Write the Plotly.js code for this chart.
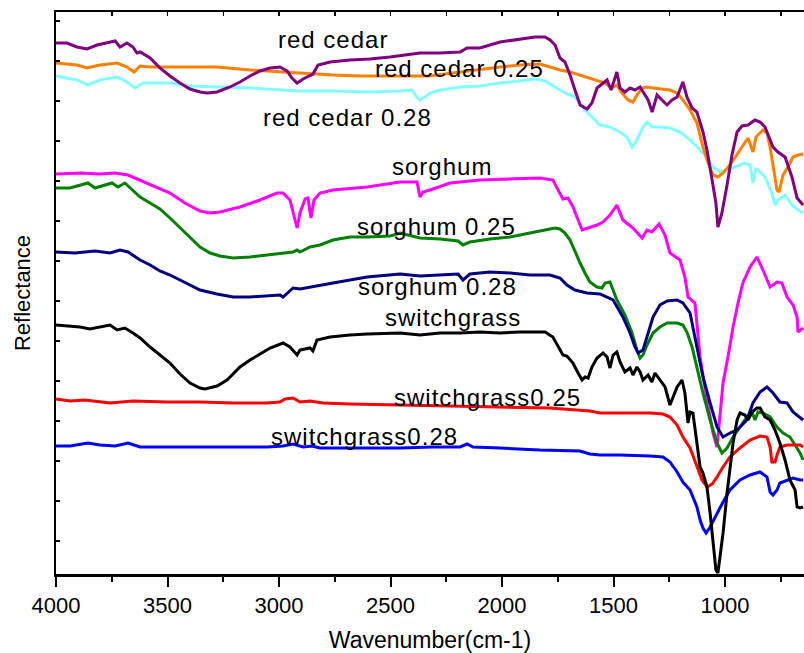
<!DOCTYPE html>
<html>
<head>
<meta charset="utf-8">
<script src="https://cdn.plot.ly/plotly-3.0.1.min.js"></script>
<style>
  html, body { margin: 0; padding: 0; background: #fff; }
  #chart { width: 804px; height: 653px; }
  .annotation-text { letter-spacing: 1px; }
</style>
</head>
<body>
<div id="chart"></div>
<script>
// FTIR reflectance spectra, stacked with vertical offsets (arbitrary units)

// red cedar
const cedarWn = [4000,3951,3906,3861,3816,3771,3735,3713,3682,3655,3637,3623,3578,3534,3489,3444,3399,3354,3323,3278,3220,3175,3130,3085,3040,2996,2964,2942,2919,2892,2861,2848,2825,2771,2682,2592,2502,2368,2278,2188,2157,2099,2009,1919,1852,1807,1785,1762,1740,1718,1695,1673,1650,1619,1597,1574,1547,1529,1511,1493,1485,1471,1449,1426,1404,1381,1368,1345,1327,1305,1283,1260,1238,1215,1189,1171,1148,1126,1099,1081,1058,1041,1032,1014,991,969,946,924,897,866,843,821,785,763,731,700,677,650];
const cedarR  = [53.1,53.1,52.7,52.5,52.9,53.1,53.3,52.7,53.1,52.7,52.1,52.2,51.6,50.6,49.8,49.1,48.5,48.2,48.1,48.2,48.7,49.2,49.8,50.3,50.6,50.7,50.3,49.6,49.1,49.5,49.9,50.0,50.9,51.2,51.4,51.5,51.7,52.1,52.1,52.2,52.6,52.6,53.2,53.5,53.7,53.7,53.4,52.9,51.6,51.2,49.9,48.4,46.9,46.5,47.1,48.6,49.1,49.4,48.4,49.7,50.2,48.6,48.2,48.6,48.4,48.7,48.2,47.4,46.2,47.9,47.4,46.9,47.4,47.7,49.2,47.7,46.6,46.2,44.2,42.4,39.4,37.1,34.7,36.1,38.9,41.9,44.2,44.8,44.9,45.4,45.2,44.7,42.7,42.2,41.7,39.7,37.6,36.9];

// red cedar 0.25
const cedar25Wn = [4000,3906,3861,3803,3726,3682,3650,3623,3578,3354,3278,3130,2996,2861,2758,2637,2502,2413,2323,2256,2188,2099,2009,1919,1830,1785,1740,1695,1650,1606,1574,1538,1507,1485,1462,1435,1413,1395,1372,1350,1323,1292,1247,1215,1189,1157,1126,1099,1076,1054,1032,1009,978,933,897,875,861,830,812,798,780,767,758,740,718,695,673,650];
const cedar25R  = [51.1,50.9,50.6,50.9,51.1,50.7,50.2,50.8,50.7,50.7,50.7,50.4,50.2,50.0,49.9,49.8,49.8,49.8,49.8,50.0,50.2,50.4,50.7,50.9,51.0,50.7,50.4,50.2,49.9,49.6,49.4,49.1,48.6,48.9,48.1,47.4,47.2,47.9,48.6,48.7,48.6,48.5,48.4,48.1,47.4,46.4,45.1,42.7,41.1,39.9,39.7,40.1,40.9,42.4,43.6,42.2,43.7,44.4,44.1,42.7,40.1,38.4,38.2,39.9,40.7,41.7,41.9,42.0];

// red cedar 0.28
const cedar28Wn = [4000,3906,3857,3803,3726,3682,3646,3610,3578,3489,3399,3278,3130,2982,2906,2758,2605,2457,2404,2386,2368,2345,2323,2278,2188,2099,2009,1919,1852,1807,1762,1718,1673,1628,1592,1561,1516,1471,1440,1417,1395,1368,1350,1328,1292,1247,1202,1157,1112,1081,1054,1023,991,955,911,888,875,861,821,790,776,763,731,700,673,650];
const cedar28R  = [49.8,49.4,48.9,49.4,49.7,49.2,48.6,49.1,49.1,49.1,48.8,48.7,48.6,48.4,48.3,48.3,48.2,48.3,48.4,47.8,47.4,47.7,48.1,48.4,48.7,48.8,49.1,49.3,49.5,49.3,48.7,48.1,47.7,46.4,45.6,44.9,44.7,44.2,43.7,42.7,43.4,44.7,45.2,44.7,44.7,44.6,44.2,43.4,42.4,41.7,40.7,40.2,40.4,40.7,41.1,40.9,39.1,40.6,39.7,38.1,36.9,37.4,37.9,36.9,36.4,36.1];

// sorghum
const sorghumWn = [4000,3892,3803,3735,3677,3623,3556,3489,3422,3354,3309,3265,3175,3085,3009,2982,2951,2933,2919,2906,2883,2870,2857,2843,2816,2758,2605,2457,2381,2368,2354,2323,2233,2099,1964,1830,1772,1749,1727,1704,1682,1659,1641,1614,1574,1547,1516,1485,1458,1413,1372,1350,1328,1296,1269,1247,1202,1180,1166,1135,1112,1081,1054,1036,1027,1009,987,964,942,920,888,857,830,798,767,745,722,695,677,673,650];
const sorghumR  = [40.0,40.1,40.0,40.1,39.9,39.4,38.7,38.1,37.1,36.3,36.1,36.2,36.7,37.4,38.1,38.1,37.4,35.9,34.6,36.1,37.5,37.6,35.6,37.4,38.1,38.4,38.7,39.2,39.2,37.7,38.2,38.4,39.1,39.4,39.5,39.6,39.4,38.4,37.5,37.6,36.7,35.4,34.4,34.6,34.9,35.2,35.9,36.9,35.4,34.6,33.6,34.4,34.2,35.0,33.9,32.1,31.4,29.7,27.7,27.1,21.7,17.4,14.1,12.7,14.7,19.1,21.7,24.7,27.1,29.1,30.7,31.7,30.4,28.7,29.2,29.1,27.7,26.9,25.7,24.2,24.6];

// sorghum 0.25
const sorghum25Wn = [4000,3937,3857,3825,3749,3722,3691,3655,3623,3578,3534,3489,3444,3399,3354,3309,3265,3206,3130,3054,2982,2937,2919,2906,2861,2816,2758,2682,2605,2502,2457,2368,2278,2197,2175,2144,2054,1964,1875,1807,1762,1740,1718,1695,1673,1650,1628,1606,1574,1552,1538,1516,1502,1485,1449,1417,1395,1381,1368,1350,1323,1292,1260,1215,1189,1171,1148,1126,1099,1067,1036,1014,991,964,933,902,879,866,852,830,798,767,740,709,686,664,650];
const sorghum25R  = [38.6,38.6,39.1,38.6,39.1,38.7,39.1,38.4,37.7,37.1,36.5,35.6,34.6,33.6,32.7,32.1,31.8,31.6,31.7,31.9,32.1,32.2,32.4,32.2,32.7,32.9,33.4,33.7,33.7,33.8,34.1,33.6,33.5,33.3,32.9,33.2,33.5,33.7,34.1,34.4,34.6,34.5,34.1,33.4,32.2,31.1,30.1,29.2,28.7,28.6,29.1,29.2,28.4,27.4,25.9,24.1,22.4,21.6,21.9,22.9,24.1,24.7,25.1,25.1,24.9,24.2,22.7,20.6,18.1,15.4,13.1,12.1,12.6,13.7,14.7,15.7,16.2,15.4,16.2,16.1,15.7,14.7,14.1,13.7,12.9,12.1,11.4];

// sorghum 0.28
const sorghum28Wn = [4000,3915,3825,3758,3713,3677,3623,3578,3534,3489,3444,3399,3354,3278,3206,3130,3054,2996,2982,2937,2906,2861,2758,2605,2457,2368,2278,2197,2175,2144,2054,1964,1875,1785,1740,1709,1673,1619,1561,1529,1502,1458,1426,1404,1390,1368,1345,1323,1292,1260,1215,1189,1157,1126,1099,1067,1036,1009,978,946,902,875,843,812,785,754,722,695,664,650];
const sorghum28R  = [32.2,32.1,32.3,32.1,32.4,32.2,31.4,30.9,30.3,29.9,29.4,28.9,28.4,28.0,27.7,27.7,27.8,27.9,27.7,28.6,28.5,28.7,29.1,29.7,30.0,29.8,29.9,30.0,29.4,30.0,30.2,30.1,29.9,29.9,29.6,28.9,28.4,28.1,28.0,27.7,27.4,25.7,24.1,22.7,22.1,22.4,24.1,25.7,26.9,27.3,27.4,27.1,26.1,22.7,19.7,17.1,14.7,13.7,14.1,14.4,15.4,17.1,18.2,18.7,18.1,17.2,17.1,16.2,15.7,15.4];

// switchgrass
const switchWn = [4000,3937,3892,3848,3803,3758,3726,3691,3655,3623,3578,3534,3489,3444,3399,3354,3332,3278,3233,3175,3130,3085,3040,2982,2951,2919,2906,2861,2848,2830,2771,2682,2605,2457,2368,2278,2188,2099,2009,1919,1807,1772,1749,1727,1709,1682,1659,1641,1628,1614,1597,1574,1547,1529,1516,1502,1485,1471,1449,1426,1413,1395,1381,1368,1345,1328,1314,1292,1269,1247,1233,1215,1193,1180,1166,1157,1144,1126,1112,1099,1081,1067,1054,1041,1032,1018,1009,991,978,964,946,933,911,897,879,857,843,821,798,776,754,731,709,686,677,664,650];
const switchR  = [24.9,24.8,24.7,24.5,24.7,24.9,24.4,24.6,24.1,23.6,22.7,21.9,21.1,20.0,19.1,18.6,18.5,18.8,19.4,20.7,21.4,22.0,22.6,23.1,22.7,21.9,22.4,22.6,22.3,23.4,23.7,23.9,24.0,24.1,23.9,24.1,24.1,24.2,24.1,24.2,24.2,23.7,22.7,21.9,21.8,21.1,20.1,19.4,19.7,19.6,20.7,21.6,22.1,21.7,20.6,21.9,22.2,21.2,20.2,20.6,19.9,20.7,20.2,19.4,19.9,19.2,20.1,19.4,18.7,16.9,17.7,18.7,19.4,18.1,15.1,16.2,16.1,13.1,10.7,10.1,8.7,6.1,3.1,0.4,0.1,2.7,4.1,8.1,10.7,13.1,15.4,16.1,15.9,15.4,16.2,16.6,16.6,15.7,15.4,14.4,13.1,11.4,9.4,8.4,6.7,6.6,6.7];

// switchgrass 0.25
const switch25Wn = [4000,3937,3870,3803,3758,3655,3502,3354,3206,3054,2996,2973,2937,2906,2861,2803,2682,2457,2233,2009,1785,1606,1561,1485,1336,1278,1247,1215,1189,1157,1126,1103,1081,1058,1036,1009,978,933,888,843,812,798,790,776,767,754,722,695,664,650];
const switch25R  = [17.5,17.3,17.4,17.2,17.1,17.3,17.2,17.2,17.1,17.1,17.2,17.5,17.6,17.2,17.3,17.1,17.0,16.9,16.8,16.7,16.6,16.3,16.1,16.1,16.1,16.0,15.7,14.9,13.7,12.6,10.7,9.4,8.7,9.0,9.7,10.7,11.7,12.6,13.4,13.8,13.7,12.7,11.2,11.2,11.9,12.7,12.9,12.9,12.9,12.7];

// switchgrass 0.28
const switch28Wn = [4000,3937,3857,3803,3735,3677,3623,3354,3054,2982,2937,2892,2852,2816,2605,2457,2310,2188,2157,2130,2009,1830,1650,1606,1561,1471,1336,1278,1247,1215,1189,1157,1126,1112,1099,1085,1067,1036,1009,978,933,888,843,812,798,785,767,754,722,695,664,650];
const switch28R  = [12.8,12.8,13.1,12.9,12.8,13.1,12.7,12.7,12.7,12.8,13.0,12.7,12.8,12.6,12.6,12.6,12.7,12.7,13.0,12.7,12.6,12.4,12.3,12.0,11.9,11.9,11.8,11.7,11.2,10.2,9.2,8.4,6.7,5.4,4.6,4.1,4.7,6.1,7.2,8.4,9.4,9.9,10.2,9.7,8.2,7.9,8.4,9.1,9.4,9.6,9.4,9.4];

// curve labels: text, wavenumber position, reflectance position
const labelText = ['red cedar','red cedar 0.25','red cedar 0.28','sorghum','sorghum 0.25','sorghum 0.28','switchgrass','switchgrass0.25','switchgrass0.28'];
const labelWn   = [2758, 2191, 2695, 2269, 2294, 2289, 2222, 2063, 2617];
const labelR    = [53.5, 50.6, 45.7, 40.8, 34.8, 28.8, 25.7, 17.7, 13.8];

const xTickVals = [4000, 3500, 3000, 2500, 2000, 1500, 1000];

const FONT = 'Liberation Sans, Arial, Helvetica, sans-serif';

function line(wn, r, color) {
  return { x: wn, y: r, type: 'scatter', mode: 'lines', hoverinfo: 'skip',
           line: { color: color, width: 3 } };
}

const traces = [
  line(cedar28Wn, cedar28R, '#80FFFF'),
  line(cedar25Wn, cedar25R, '#FF8000'),
  line(cedarWn, cedarR, '#800080'),
  line(sorghumWn, sorghumR, '#FF00FF'),
  line(sorghum25Wn, sorghum25R, '#008000'),
  line(sorghum28Wn, sorghum28R, '#000080'),
  line(switch28Wn, switch28R, '#0000FF'),
  line(switch25Wn, switch25R, '#FF0000'),
  line(switchWn, switchR, '#000000')
];

const annotations = labelText.map((t, i) => ({
  text: t, x: labelWn[i], y: labelR[i], xref: 'x', yref: 'y',
  showarrow: false, xanchor: 'center', yanchor: 'middle',
  font: { family: FONT, size: 24, color: '#000' }
}));

const layout = {
  width: 804, height: 653,
  margin: { l: 56, r: 0, t: 12, b: 79 },
  paper_bgcolor: '#fff', plot_bgcolor: '#fff',
  showlegend: false,
  font: { family: FONT, color: '#000' },
  xaxis: {
    range: [4000, 646], showgrid: false, zeroline: false,
    showline: true, linecolor: '#000', linewidth: 2.5,
    ticks: 'outside', ticklen: 10, tickwidth: 2, tickcolor: '#000',
    tickvals: xTickVals, ticktext: xTickVals.map(String),
    tickfont: { family: FONT, size: 22, color: '#000' },
    minor: { dtick: 250, tick0: 0, ticks: 'outside', ticklen: 5, tickwidth: 2, tickcolor: '#000' },
    title: { text: 'Wavenumber(cm-1)', font: { family: FONT, size: 23, color: '#000' }, standoff: 15 }
  },
  xaxis2: {
    overlaying: 'x', side: 'top', range: [4000, 646],
    showgrid: false, zeroline: false, showticklabels: false,
    showline: true, linecolor: '#000', linewidth: 2,
    ticks: 'inside', ticklen: 4, tickwidth: 1.5, tickcolor: '#000',
    tick0: 0, dtick: 250
  },
  yaxis: {
    range: [0, 56.2], showgrid: false, zeroline: false,
    showline: true, linecolor: '#000', linewidth: 2.5,
    showticklabels: false,
    ticks: 'inside', ticklen: 4, tickwidth: 1.5, tickcolor: '#000',
    tick0: 3.3, dtick: 4,
    title: { text: 'Reflectance', font: { family: FONT, size: 22, color: '#000' }, standoff: 17 }
  },
  annotations: annotations
};

// an empty trace on the top axis so it is drawn
traces.push({ x: [4000], y: [null], xaxis: 'x2', yaxis: 'y', type: 'scatter', mode: 'lines', hoverinfo: 'skip', showlegend: false });

Plotly.newPlot('chart', traces, layout, { staticPlot: true, displayModeBar: false });
</script>
</body>
</html>
